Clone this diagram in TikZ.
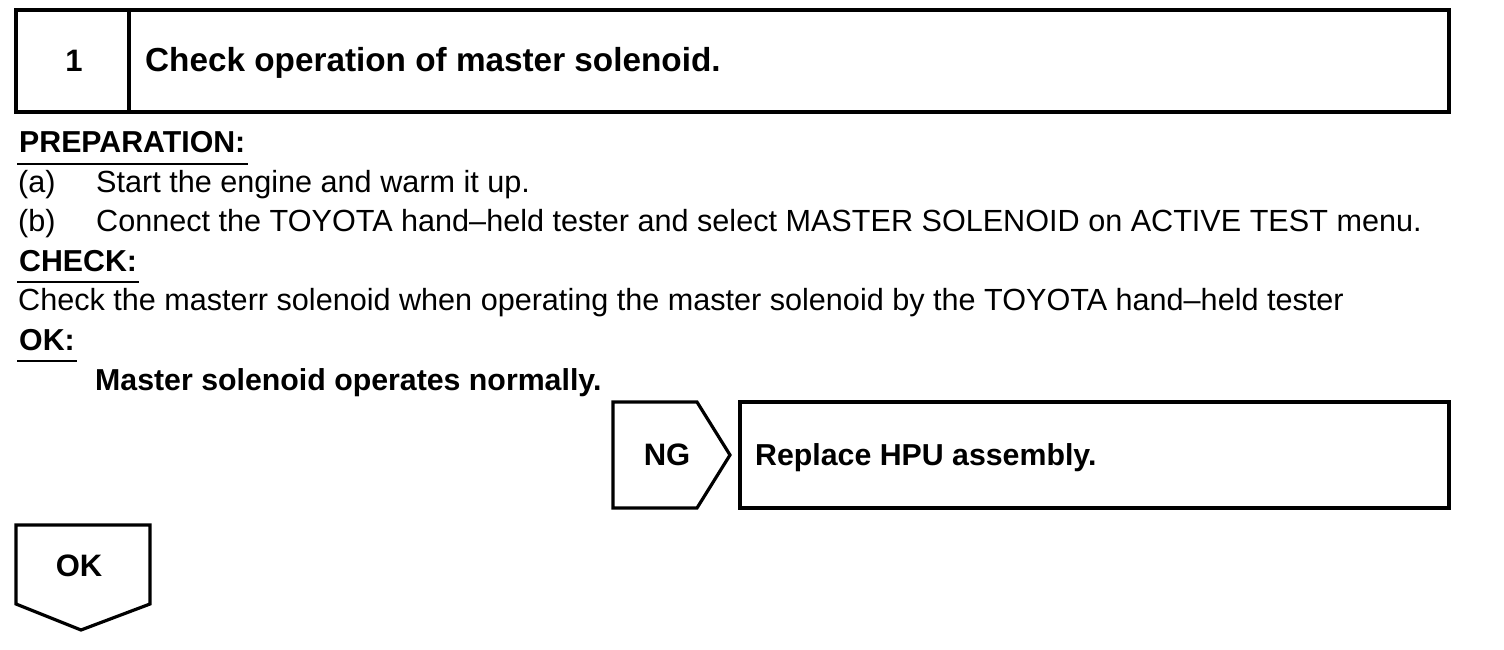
\documentclass[tikz,border=0pt]{standalone}
\usepackage{fontspec}
\setmainfont{Liberation Sans}
\begin{document}
\begin{tikzpicture}[x=1pt,y=-1pt,
  body/.style={anchor=base west, inner sep=0, font=\fontsize{30.6}{34}\selectfont},
  head/.style={anchor=base west, inner sep=0, font=\fontsize{30.3}{34}\selectfont\bfseries},
  titlefont/.style={anchor=base west, inner sep=0, font=\fontsize{33.3}{38}\selectfont\bfseries},
  boxlabel/.style={anchor=base, inner sep=0, font=\fontsize{31}{34}\selectfont\bfseries},
  frame/.style={draw, line width=3.2pt, line join=miter},
  uline/.style={draw, line width=2pt}]
\useasboundingbox (0,0) rectangle (1504,650);
% title box
\draw[frame] (16,10) rectangle (1449,112);
\draw[frame] (129,10) -- (129,112);
\node[boxlabel] (num) at (74,72) {1};
\node[titlefont] (title) at (145,72) {Check operation of master solenoid.};
% preparation
\node[head] (prep) at (19,153) {PREPARATION:};
\draw[uline] ([xshift=-2pt,yshift=-11pt]prep.base west) -- ([xshift=2pt,yshift=-11pt]prep.base east);
\node[body] (la) at (18,192) {(a)};
\node[body] (ta) at (96,192) {Start the engine and warm it up.};
\node[body] (lb) at (18,231) {(b)};
\node[body] (tb) at (96,231) {Connect the TOYOTA hand–held tester and select MASTER SOLENOID on ACTIVE TEST menu.};
\node[head] (check) at (19,271) {CHECK:};
\draw[uline] ([xshift=-2pt,yshift=-11pt]check.base west) -- ([xshift=2pt,yshift=-11pt]check.base east);
\node[body] (tc) at (18,310) {Check the masterr solenoid when operating the master solenoid by the TOYOTA hand–held tester};
\node[head] (ok) at (19,350) {OK:};
\draw[uline] ([xshift=-2pt,yshift=-11pt]ok.base west) -- ([xshift=2pt,yshift=-11pt]ok.base east);
\node[head] (spec) at (95,390) {Master solenoid operates normally.};
% NG
\draw[frame] (613,402) -- (697,402) -- (730,455) -- (697,508) -- (613,508) -- cycle;
\node[boxlabel] (ng) at (667,465) {NG};
\draw[frame] (740,402) rectangle (1449,508);
\node[head] (repl) at (755,465) {Replace HPU assembly.};
% OK arrow
\draw[frame] (16,525) -- (150,525) -- (150,604) -- (81,630) -- (16,604) -- cycle;
\node[boxlabel] (okb) at (79,576) {OK};
\end{tikzpicture}
\end{document}
